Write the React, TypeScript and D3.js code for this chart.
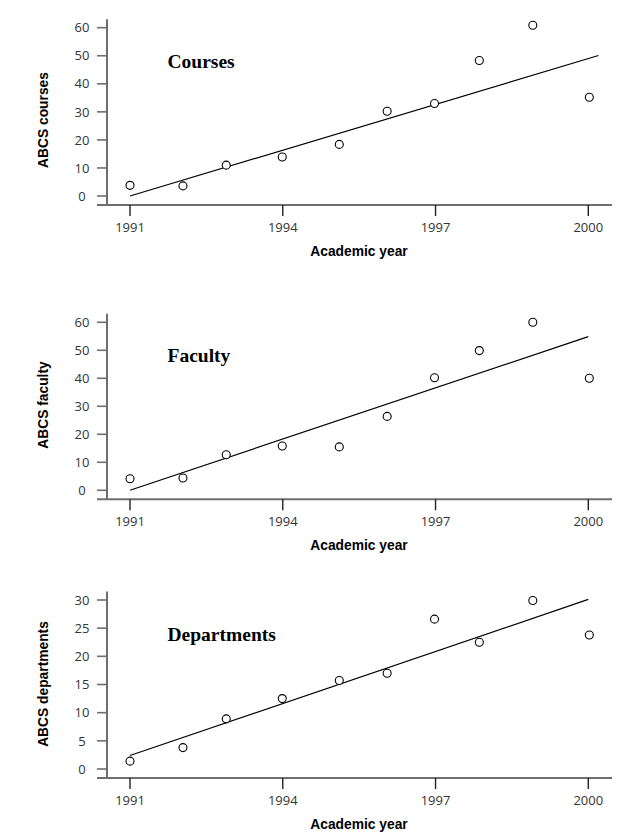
import React from "react";
import * as d3 from "d3";

// ---- data ----
const years = [1991, 1992.04, 1992.89, 1993.99, 1995.11, 1996.05, 1996.98, 1997.86, 1998.91, 2000.02];
const courses = [3.8, 3.6, 11.0, 13.9, 18.4, 30.2, 33.0, 48.3, 60.9, 35.2];
const faculty = [4.1, 4.4, 12.7, 15.8, 15.5, 26.4, 40.2, 49.9, 60.0, 40.0];
const departments = [1.4, 3.8, 8.9, 12.5, 15.7, 17.0, 26.6, 22.5, 29.9, 23.8];

// fitted trend lines: [year, value] endpoints
const coursesFit: [number, number][] = [[1991, 0.0], [2000.2, 50.1]];
const facultyFit: [number, number][] = [[1991, 0.0], [2000, 54.9]];
const departmentsFit: [number, number][] = [[1991, 2.4], [2000, 30.1]];

const xTicks = [1991, 1994, 1997, 2000];
const yTicks60 = [0, 10, 20, 30, 40, 50, 60];
const yTicks30 = [0, 5, 10, 15, 20, 25, 30];

const titles = ["Courses", "Faculty", "Departments"];
const yLabels = ["ABCS courses", "ABCS faculty", "ABCS departments"];
const xLabel = "Academic year";

// ---- layout ----
const W = 621;
const H = 834;
const xLeft = 130;
const xRight = 588.3;
const yAxisX = 107;
const xAxisLeft = 97;
const xAxisRight = 612;

interface PanelSpec {
  values: number[];
  fit: [number, number][];
  ticks: number[];
  max: number;
  zeroY: number;
  topY: number;
  title: string;
  yLabel: string;
  yLabelCenter: number;
}

const panels: PanelSpec[] = [
  { values: courses, fit: coursesFit, ticks: yTicks60, max: 60, zeroY: 196, topY: 27.7, title: titles[0], yLabel: yLabels[0], yLabelCenter: 120 },
  { values: faculty, fit: facultyFit, ticks: yTicks60, max: 60, zeroY: 490.3, topY: 322.3, title: titles[1], yLabel: yLabels[1], yLabelCenter: 405 },
  { values: departments, fit: departmentsFit, ticks: yTicks30, max: 30, zeroY: 769, topY: 600, title: titles[2], yLabel: yLabels[2], yLabelCenter: 684 },
];

const axisGray = "#6e6e6e";
const tickFont = "'Open Sans', 'Liberation Sans', sans-serif";
const boldSans = "'Liberation Sans', Arial, sans-serif";
const serif = "'Liberation Serif', 'Times New Roman', serif";

function Panel({ p }: { p: PanelSpec }) {
  const x = d3.scaleLinear().domain([1991, 2000]).range([xLeft, xRight]);
  const y = d3.scaleLinear().domain([0, p.max]).range([p.zeroY, p.topY]);
  const axisY = p.zeroY + 9;
  const axisTop = p.topY - 8.5;
  const line = d3
    .line<[number, number]>()
    .x((d) => x(d[0]))
    .y((d) => y(d[1]));

  return (
    <g>
      {/* y axis */}
      <line x1={yAxisX} x2={yAxisX} y1={axisTop} y2={axisY} stroke={axisGray} strokeWidth={2} />
      {p.ticks.map((t) => (
        <g key={"y" + t}>
          <line x1={xAxisLeft} x2={yAxisX} y1={y(t)} y2={y(t)} stroke={axisGray} strokeWidth={1.6} />
          <text
            x={82}
            y={y(t)}
            dy="0.36em"
            textAnchor="middle"
            fontFamily={tickFont}
            fontSize={13}
            fill="#333"
          >
            {t}
          </text>
        </g>
      ))}
      {/* x axis */}
      <line x1={xAxisLeft} x2={xAxisRight} y1={axisY} y2={axisY} stroke={axisGray} strokeWidth={2} />
      {xTicks.map((t) => (
        <g key={"x" + t}>
          <line x1={x(t)} x2={x(t)} y1={axisY} y2={axisY + 11} stroke="#222" strokeWidth={1.4} />
          <text
            x={x(t)}
            y={axisY + 27}
            textAnchor="middle"
            fontFamily={tickFont}
            fontSize={13}
            fill="#333"
          >
            {t}
          </text>
        </g>
      ))}
      <text
        x={359}
        y={axisY + 51}
        textAnchor="middle"
        fontFamily={boldSans}
        fontWeight="bold"
        fontSize={13.8}
        fill="#000"
      >
        {xLabel}
      </text>
      <text
        transform={`translate(47.5, ${p.yLabelCenter}) rotate(-90)`}
        textAnchor="middle"
        fontFamily={boldSans}
        fontWeight="bold"
        fontSize={13.8}
        fill="#000"
      >
        {p.yLabel}
      </text>
      {/* title */}
      <text
        x={167.5}
        y={p.zeroY - 128}
        fontFamily={serif}
        fontWeight="bold"
        fontSize={19.5}
        fill="#000"
      >
        {p.title}
      </text>
      {/* fit line */}
      <path d={line(p.fit) || ""} fill="none" stroke="#000" strokeWidth={1.2} />
      {/* points */}
      {p.values.map((v, i) => (
        <circle key={i} cx={x(years[i])} cy={y(v)} r={4} fill="#fff" stroke="#000" strokeWidth={1.1} />
      ))}
    </g>
  );
}

export default function App() {
  return (
    <svg
      width={W}
      height={H}
      viewBox={`0 0 ${W} ${H}`}
      style={{ position: "absolute", left: 0, top: 0, background: "#fff" }}
    >
      <rect x={0} y={0} width={W} height={H} fill="#fff" />
      {panels.map((p, i) => (
        <Panel key={i} p={p} />
      ))}
    </svg>
  );
}
